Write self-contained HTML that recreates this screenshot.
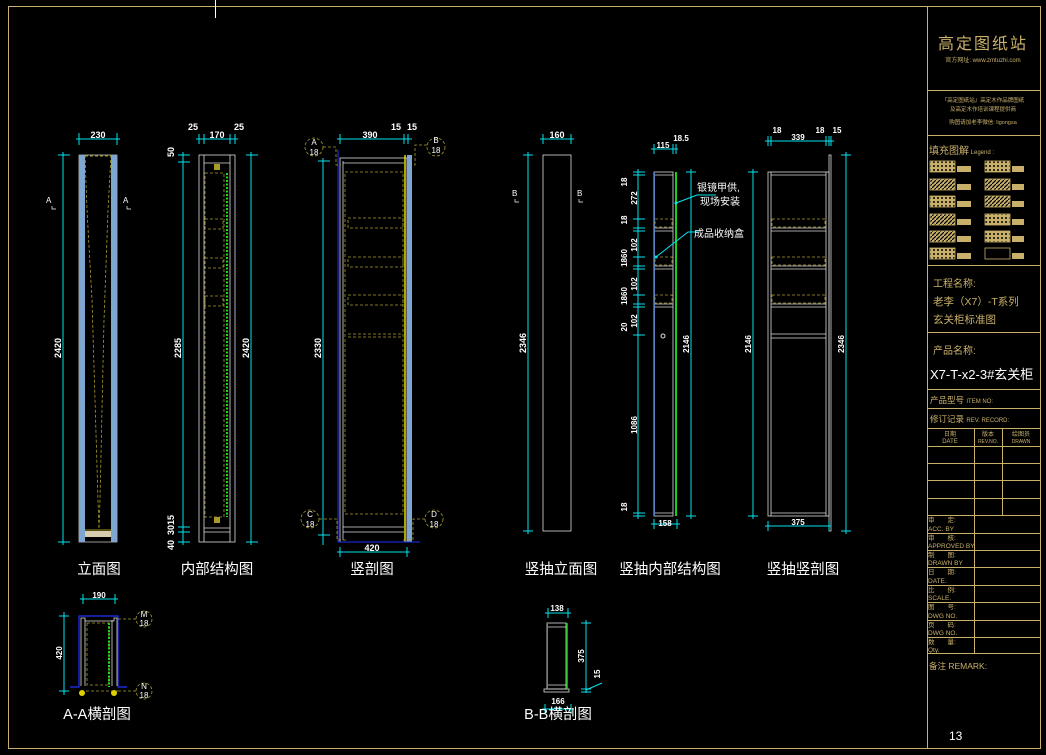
<!DOCTYPE html>
<html><head><meta charset="utf-8"><style>
html,body{margin:0;padding:0;background:#000;}
svg{display:block;}
text{font-family:"Liberation Sans","Noto Sans CJK SC",sans-serif;}
.cn{font-family:"Liberation Sans","Noto Sans CJK SC",sans-serif;}
</style></head><body>
<svg width="1046" height="755" viewBox="0 0 1046 755" xmlns="http://www.w3.org/2000/svg">
<defs>
<pattern id="hat" width="4" height="4" patternUnits="userSpaceOnUse"><rect width="4" height="4" fill="#c9b06a"/><path d="M0 4L4 0" stroke="#000" stroke-width="1.2"/></pattern>
<pattern id="dot" width="4" height="4" patternUnits="userSpaceOnUse"><rect width="4" height="4" fill="#c9b06a"/><circle cx="2" cy="2" r="1" fill="#000"/></pattern>
</defs>
<rect width="1046" height="755" fill="#000"/>
<!-- outer frame -->
<g stroke="#c9b06a" fill="none" stroke-width="1">
<rect x="8.5" y="6.5" width="1032" height="742"/>
<line x1="927.5" y1="6" x2="927.5" y2="748"/>
<line x1="927" y1="90.5" x2="1040" y2="90.5"/>
<line x1="927" y1="135.5" x2="1040" y2="135.5"/>
<line x1="927" y1="265.5" x2="1040" y2="265.5"/>
<line x1="927" y1="332.5" x2="1040" y2="332.5"/>
<line x1="927" y1="389.5" x2="1040" y2="389.5"/>
<line x1="927" y1="408.5" x2="1040" y2="408.5"/>
<line x1="927" y1="428.5" x2="1040" y2="428.5"/>
<line x1="927" y1="446.5" x2="1040" y2="446.5"/>
<line x1="927" y1="463.5" x2="1040" y2="463.5"/>
<line x1="927" y1="480.5" x2="1040" y2="480.5"/>
<line x1="927" y1="498.5" x2="1040" y2="498.5"/>
<line x1="927" y1="515.5" x2="1040" y2="515.5"/>
<line x1="927" y1="533.5" x2="1040" y2="533.5"/>
<line x1="927" y1="550.5" x2="1040" y2="550.5"/>
<line x1="927" y1="567.5" x2="1040" y2="567.5"/>
<line x1="927" y1="585.5" x2="1040" y2="585.5"/>
<line x1="927" y1="602.5" x2="1040" y2="602.5"/>
<line x1="927" y1="620.5" x2="1040" y2="620.5"/>
<line x1="927" y1="637.5" x2="1040" y2="637.5"/>
<line x1="927" y1="653.5" x2="1040" y2="653.5"/>
<line x1="974.5" y1="428" x2="974.5" y2="515"/>
<line x1="1002.5" y1="428" x2="1002.5" y2="515"/>
<line x1="974.5" y1="515" x2="974.5" y2="653"/>
</g>
<line x1="215.5" y1="0" x2="215.5" y2="18" stroke="#fff"/>
<!-- title block text -->
<g fill="#c9b06a">
<text x="983" y="49" font-size="16" text-anchor="middle" class="cn" letter-spacing="2">高定图纸站</text>
<text x="983" y="62" font-size="6" text-anchor="middle">官方网址: www.zmtuzhi.com</text>
<text x="983" y="102" font-size="5.5" text-anchor="middle">『高定图纸站』高定木作品牌图纸</text>
<text x="983" y="111" font-size="5.5" text-anchor="middle">及高定木作培训课程提供商</text>
<text x="983" y="124" font-size="5.5" text-anchor="middle">购图请加老李微信: ligongsa</text>
<text x="929" y="154" font-size="10">填充图解<tspan font-size="6"> Legend :</tspan></text>
<text x="933" y="287" font-size="10">工程名称:</text>
<text x="933" y="305" font-size="10.5">老李（X7）-T系列</text>
<text x="933" y="323" font-size="10.5">玄关柜标准图</text>
<text x="933" y="354" font-size="10">产品名称:</text>
<text x="930" y="403" font-size="8.5">产品型号 <tspan font-size="6">ITEM NO:</tspan></text>
<text x="930" y="422" font-size="8.5">修订记录 <tspan font-size="6">REV. RECORD:</tspan></text>
<text x="950" y="436" font-size="6" text-anchor="middle">日期</text>
<text x="950" y="443" font-size="6" text-anchor="middle">DATE</text>
<text x="988" y="436" font-size="6" text-anchor="middle">版本</text>
<text x="988" y="443" font-size="5" text-anchor="middle">REV.NO.</text>
<text x="1021" y="436" font-size="6" text-anchor="middle">绘图员</text>
<text x="1021" y="443" font-size="5" text-anchor="middle">DRAWN</text>
<g font-size="6.5">
<text x="928" y="522">审　　定:</text><text x="928" y="531">ACC. BY</text>
<text x="928" y="540">审　　核:</text><text x="928" y="548">APPROVED BY</text>
<text x="928" y="557">制　　图:</text><text x="928" y="565">DRAWN BY</text>
<text x="928" y="574">日　　期:</text><text x="928" y="583">DATE.</text>
<text x="928" y="592">比　　例:</text><text x="928" y="600">SCALE.</text>
<text x="928" y="609">图　　号:</text><text x="928" y="618">DWG NO.</text>
<text x="928" y="627">页　　码:</text><text x="928" y="635">DWG NO.</text>
<text x="928" y="644">数　　量:</text><text x="928" y="652">Qty.</text>
</g>
<text x="929" y="669" font-size="8.5">备注 REMARK:</text>
</g>
<text x="930" y="379" font-size="13" fill="#fff">X7-T-x2-3#玄关柜</text>
<text x="949" y="740" font-size="12" fill="#fff">13</text>
<!-- legend swatches -->
<g stroke="#c9b06a" stroke-width="0.8">
<rect x="930" y="161" width="25" height="11" fill="url(#dot)"/>
<rect x="930" y="179" width="25" height="11" fill="url(#hat)"/>
<rect x="930" y="196" width="25" height="11" fill="url(#dot)"/>
<rect x="930" y="214" width="25" height="11" fill="url(#hat)"/>
<rect x="930" y="231" width="25" height="11" fill="url(#hat)"/>
<rect x="930" y="248" width="25" height="11" fill="url(#dot)"/>
<rect x="985" y="161" width="25" height="11" fill="url(#dot)"/>
<rect x="985" y="179" width="25" height="11" fill="url(#hat)"/>
<rect x="985" y="196" width="25" height="11" fill="url(#hat)"/>
<rect x="985" y="214" width="25" height="11" fill="url(#dot)"/>
<rect x="985" y="231" width="25" height="11" fill="url(#dot)"/>
<rect x="985" y="248" width="25" height="11" fill="none"/>
</g>
<g fill="#c9b06a">
<rect x="957" y="166" width="14" height="6"/><rect x="957" y="184" width="14" height="6"/><rect x="957" y="201" width="14" height="6"/><rect x="957" y="219" width="14" height="6"/><rect x="957" y="236" width="14" height="6"/><rect x="957" y="253" width="14" height="6"/>
<rect x="1012" y="166" width="12" height="6"/><rect x="1012" y="184" width="12" height="6"/><rect x="1012" y="201" width="12" height="6"/><rect x="1012" y="219" width="12" height="6"/><rect x="1012" y="236" width="12" height="6"/><rect x="1012" y="253" width="12" height="6"/>
</g>

<!-- ============ 立面图 ============ -->
<g>
<rect x="79" y="155" width="38" height="387" fill="none" stroke="#fff" stroke-width="0.6"/>
<rect x="79" y="155" width="6" height="387" fill="#7ea6d0"/>
<rect x="111" y="155" width="6" height="387" fill="#7ea6d0"/>
<rect x="85" y="531" width="26" height="6" fill="#d9cdb0"/>
<path d="M85 155L87 210L92 300L98 500L99 530M111 155L108 210L104 320L100 500L99 530" stroke="#a89a2a" fill="none" stroke-dasharray="3,2" stroke-width="0.8"/>
<line x1="85" y1="156" x2="111" y2="156" stroke="#a89a2a" stroke-dasharray="3,2"/>
<line x1="85" y1="530" x2="111" y2="530" stroke="#a89a2a"/>
</g>
<g stroke="#00e5ee" stroke-width="1" fill="none">
<line x1="63" y1="152" x2="63" y2="545"/><line x1="58" y1="155" x2="70" y2="155"/><line x1="58" y1="542" x2="70" y2="542"/>
<line x1="76" y1="139" x2="120" y2="139"/><line x1="79" y1="133" x2="79" y2="145"/><line x1="117" y1="133" x2="117" y2="145"/>
</g>
<text x="98" y="138" fill="#fff" font-size="9" font-weight="bold" text-anchor="middle">230</text>
<text transform="translate(61,348) rotate(-90)" fill="#fff" font-size="9" font-weight="bold" text-anchor="middle">2420</text>
<text x="46" y="203" fill="#fff" font-size="8">A</text><text x="123" y="203" fill="#fff" font-size="8">A</text>
<path d="M52 206V209H56M127 206V209H131" stroke="#fff" fill="none" stroke-width="0.7"/>

<!-- ============ 内部结构图 ============ -->
<g stroke="#ddd" fill="none" stroke-width="0.8">
<rect x="199" y="155" width="36" height="387"/>
<line x1="204" y1="155" x2="204" y2="542"/><line x1="230" y1="155" x2="230" y2="542"/>
<line x1="204" y1="163" x2="230" y2="163"/>
<line x1="204" y1="528" x2="230" y2="528"/><line x1="204" y1="532" x2="230" y2="532"/>
</g>
<g stroke="#a89a2a" fill="none" stroke-dasharray="3,2" stroke-width="0.8">
<rect x="205" y="173" width="19" height="344"/>
<rect x="205" y="219" width="18" height="10"/><rect x="205" y="258" width="18" height="10"/><rect x="205" y="296" width="18" height="10"/>
</g>
<line x1="227" y1="173" x2="227" y2="517" stroke="#19e019" stroke-width="2" stroke-dasharray="2,1.5"/>
<rect x="214" y="164" width="6" height="6" fill="#a89a2a"/><rect x="214" y="517" width="6" height="6" fill="#a89a2a"/>
<g stroke="#00e5ee" stroke-width="1" fill="none">
<line x1="183" y1="152" x2="183" y2="545"/><line x1="178" y1="155" x2="190" y2="155"/><line x1="178" y1="162" x2="190" y2="162"/><line x1="178" y1="527" x2="190" y2="527"/><line x1="178" y1="532" x2="190" y2="532"/><line x1="178" y1="542" x2="190" y2="542"/>
<line x1="251" y1="152" x2="251" y2="545"/><line x1="246" y1="155" x2="258" y2="155"/><line x1="246" y1="542" x2="258" y2="542"/>
<line x1="196" y1="139" x2="238" y2="139"/><line x1="199" y1="134" x2="199" y2="144"/><line x1="204" y1="134" x2="204" y2="144"/><line x1="230" y1="134" x2="230" y2="144"/><line x1="235" y1="134" x2="235" y2="144"/>
</g>
<g fill="#fff" font-size="9" font-weight="bold" text-anchor="middle">
<text x="217" y="138">170</text><text x="193" y="130">25</text><text x="239" y="130">25</text>
<text transform="translate(181,348) rotate(-90)">2285</text>
<text transform="translate(249,348) rotate(-90)">2420</text>
<text transform="translate(174,152) rotate(-90)">50</text>
<text transform="translate(174,520) rotate(-90)">15</text>
<text transform="translate(174,530) rotate(-90)">30</text>
<text transform="translate(174,545) rotate(-90)">40</text>
</g>

<!-- ============ 竖剖图 ============ -->
<g stroke="#ddd" fill="none" stroke-width="0.8">
<rect x="340" y="158" width="67" height="384"/>
<line x1="343" y1="161" x2="343" y2="540"/>
<line x1="343" y1="163" x2="404" y2="163"/>
<line x1="343" y1="527" x2="404" y2="527"/><line x1="343" y1="532" x2="404" y2="532"/>
</g>
<rect x="407" y="155" width="5" height="387" fill="#7ea6d0"/>
<line x1="405" y1="155" x2="405" y2="542" stroke="#e0e000" stroke-width="1.5"/>
<line x1="338" y1="150" x2="338" y2="542" stroke="#2030ff"/>
<line x1="338" y1="542" x2="420" y2="542" stroke="#2030ff"/>
<g stroke="#a89a2a" fill="none" stroke-dasharray="3,2" stroke-width="0.8">
<rect x="345" y="172" width="58" height="342"/>
<rect x="348" y="218" width="55" height="10"/><rect x="348" y="257" width="55" height="10"/><rect x="348" y="295" width="55" height="10"/>
<line x1="348" y1="334" x2="403" y2="334"/><line x1="348" y1="337" x2="403" y2="337"/>
<circle cx="314" cy="147" r="9"/><circle cx="436" cy="147" r="9"/><circle cx="310" cy="519" r="9"/><circle cx="434" cy="519" r="9"/>
<path d="M323 147H336V165H341M427 145H415V165H411M319 519H337V540H346M425 519H413V540H402"/>
</g>
<g fill="#fff" font-size="8" text-anchor="middle">
<text x="314" y="145">A</text><text x="314" y="155">18</text>
<text x="436" y="143">B</text><text x="436" y="153">18</text>
<text x="310" y="517">C</text><text x="310" y="527">18</text>
<text x="434" y="517">D</text><text x="434" y="527">18</text>
</g>
<g stroke="#00e5ee" stroke-width="1" fill="none">
<line x1="323" y1="158" x2="323" y2="545"/><line x1="318" y1="161" x2="330" y2="161"/><line x1="318" y1="535" x2="330" y2="535"/>
<line x1="337" y1="139" x2="412" y2="139"/><line x1="340" y1="134" x2="340" y2="144"/><line x1="404" y1="134" x2="404" y2="144"/><line x1="408" y1="134" x2="408" y2="144"/>
<line x1="337" y1="552" x2="410" y2="552"/><line x1="340" y1="547" x2="340" y2="557"/><line x1="407" y1="547" x2="407" y2="557"/>
</g>
<g fill="#fff" font-size="9" font-weight="bold" text-anchor="middle">
<text x="370" y="138">390</text><text x="396" y="130">15</text><text x="412" y="130">15</text>
<text x="372" y="551">420</text>
<text transform="translate(321,348) rotate(-90)">2330</text>
</g>

<!-- ============ 竖抽立面图 ============ -->
<rect x="543" y="155" width="28" height="376" fill="none" stroke="#ddd" stroke-width="0.8"/>
<g stroke="#00e5ee" stroke-width="1" fill="none">
<line x1="528" y1="152" x2="528" y2="534"/><line x1="523" y1="155" x2="533" y2="155"/><line x1="523" y1="531" x2="533" y2="531"/>
<line x1="540" y1="139" x2="574" y2="139"/><line x1="543" y1="134" x2="543" y2="144"/><line x1="571" y1="134" x2="571" y2="144"/>
</g>
<g fill="#fff" font-size="9" font-weight="bold" text-anchor="middle">
<text x="557" y="138">160</text>
<text transform="translate(526,343) rotate(-90)">2346</text>
</g>
<text x="512" y="196" fill="#fff" font-size="8">B</text><text x="577" y="196" fill="#fff" font-size="8">B</text>
<path d="M515 199V202H519M579 199V202H583" stroke="#fff" fill="none" stroke-width="0.7"/>

<!-- ============ 竖抽内部结构图 ============ -->
<g stroke="#ddd" fill="none" stroke-width="0.8">
<rect x="654" y="172" width="19" height="344"/>
<line x1="654" y1="175" x2="673" y2="175"/><line x1="654" y1="513" x2="673" y2="513"/>
<line x1="654" y1="228" x2="673" y2="228"/><line x1="654" y1="231" x2="673" y2="231"/>
<line x1="654" y1="266" x2="673" y2="266"/><line x1="654" y1="269" x2="673" y2="269"/>
<line x1="654" y1="304" x2="673" y2="304"/><line x1="654" y1="307" x2="673" y2="307"/>
</g>
<line x1="654.5" y1="172" x2="654.5" y2="516" stroke="#5a7fc0"/>
<line x1="676" y1="172" x2="676" y2="516" stroke="#19d019" stroke-width="2"/>
<g stroke="#a89a2a" fill="none" stroke-dasharray="3,2" stroke-width="0.8">
<rect x="655" y="219" width="17" height="8"/><rect x="655" y="257" width="17" height="8"/><rect x="655" y="295" width="17" height="8"/>
</g>
<circle cx="663" cy="336" r="2" fill="none" stroke="#ddd"/>
<g stroke="#00e5ee" stroke-width="1" fill="none">
<line x1="638" y1="169" x2="638" y2="519"/>
<line x1="633" y1="172" x2="645" y2="172"/><line x1="633" y1="175" x2="645" y2="175"/><line x1="633" y1="219" x2="645" y2="219"/><line x1="633" y1="228" x2="645" y2="228"/><line x1="633" y1="231" x2="645" y2="231"/><line x1="633" y1="257" x2="645" y2="257"/><line x1="633" y1="266" x2="645" y2="266"/><line x1="633" y1="269" x2="645" y2="269"/><line x1="633" y1="295" x2="645" y2="295"/><line x1="633" y1="304" x2="645" y2="304"/><line x1="633" y1="307" x2="645" y2="307"/><line x1="633" y1="335" x2="645" y2="335"/><line x1="633" y1="513" x2="645" y2="513"/><line x1="633" y1="516" x2="645" y2="516"/>
<line x1="691" y1="169" x2="691" y2="519"/><line x1="686" y1="172" x2="696" y2="172"/><line x1="686" y1="516" x2="696" y2="516"/>
<line x1="651" y1="524" x2="680" y2="524"/><line x1="654" y1="519" x2="654" y2="529"/><line x1="677" y1="519" x2="677" y2="529"/>
<line x1="651" y1="149" x2="678" y2="149"/><line x1="654" y1="144" x2="654" y2="154"/><line x1="673" y1="144" x2="673" y2="154"/><line x1="676" y1="144" x2="676" y2="154"/>
<path d="M676 203L697 195H716M656 257L688 232H699"/>
</g>
<circle cx="676" cy="203" r="1.5" fill="#00e5ee"/><circle cx="656" cy="257" r="1.5" fill="#00e5ee"/>
<g fill="#fff" font-size="10" class="cn">
<text x="697" y="191">银镜甲供,</text><text x="700" y="205">现场安装</text>
<text x="694" y="237">成品收纳盒</text>
</g>
<g fill="#fff" font-size="8" font-weight="bold" text-anchor="middle">
<text x="663" y="148">115</text><text x="681" y="141">18.5</text>
<text x="665" y="526">158</text>
<text transform="translate(689,344) rotate(-90)">2146</text>
<text transform="translate(627,182) rotate(-90)">18</text>
<text transform="translate(637,198) rotate(-90)">272</text>
<text transform="translate(627,220) rotate(-90)">18</text>
<text transform="translate(637,245) rotate(-90)">102</text>
<text transform="translate(627,258) rotate(-90)">1860</text>
<text transform="translate(637,284) rotate(-90)">102</text>
<text transform="translate(627,296) rotate(-90)">1860</text>
<text transform="translate(637,321) rotate(-90)">102</text>
<text transform="translate(627,327) rotate(-90)">20</text>
<text transform="translate(637,425) rotate(-90)">1086</text>
<text transform="translate(627,507) rotate(-90)">18</text>
</g>

<!-- ============ 竖抽竖剖图 ============ -->
<g stroke="#ddd" fill="none" stroke-width="0.8">
<rect x="768" y="172" width="61" height="344"/>
<line x1="771" y1="172" x2="771" y2="516"/>
<line x1="771" y1="175" x2="826" y2="175"/><line x1="826" y1="172" x2="826" y2="516"/>
<line x1="771" y1="228" x2="826" y2="228"/><line x1="771" y1="231" x2="826" y2="231"/>
<line x1="771" y1="266" x2="826" y2="266"/><line x1="771" y1="269" x2="826" y2="269"/>
<line x1="771" y1="304" x2="826" y2="304"/><line x1="771" y1="307" x2="826" y2="307"/>
<line x1="771" y1="334" x2="826" y2="334"/><line x1="771" y1="338" x2="826" y2="338"/>
<line x1="771" y1="513" x2="826" y2="513"/>
<rect x="829" y="155" width="2" height="376"/>
</g>
<g stroke="#a89a2a" fill="none" stroke-dasharray="3,2" stroke-width="0.8">
<rect x="772" y="219" width="53" height="8"/><rect x="772" y="257" width="53" height="8"/><rect x="772" y="295" width="53" height="8"/>
</g>
<g stroke="#00e5ee" stroke-width="1" fill="none">
<line x1="753" y1="169" x2="753" y2="519"/><line x1="748" y1="172" x2="758" y2="172"/><line x1="748" y1="516" x2="758" y2="516"/>
<line x1="846" y1="152" x2="846" y2="534"/><line x1="841" y1="155" x2="851" y2="155"/><line x1="841" y1="531" x2="851" y2="531"/>
<line x1="765" y1="141" x2="834" y2="141"/><line x1="768" y1="136" x2="768" y2="146"/><line x1="771" y1="136" x2="771" y2="146"/><line x1="826" y1="136" x2="826" y2="146"/><line x1="829" y1="136" x2="829" y2="146"/><line x1="831" y1="136" x2="831" y2="146"/>
<line x1="765" y1="526" x2="831" y2="526"/><line x1="768" y1="521" x2="768" y2="531"/><line x1="829" y1="521" x2="829" y2="531"/>
</g>
<g fill="#fff" font-size="8" font-weight="bold" text-anchor="middle">
<text x="777" y="133">18</text><text x="798" y="140">339</text><text x="820" y="133">18</text><text x="837" y="133">15</text>
<text x="798" y="525">375</text>
<text transform="translate(751,344) rotate(-90)">2146</text>
<text transform="translate(844,344) rotate(-90)">2346</text>
</g>

<!-- ============ A-A ============ -->
<path d="M70 687H79V616H118V687H127" stroke="#2030ff" fill="none" stroke-width="1.2"/>
<g stroke="#ddd" fill="none" stroke-width="0.8">
<path d="M81 686V618H85V621H114V618H117V686"/>
<line x1="85" y1="620" x2="85" y2="686"/><line x1="112" y1="620" x2="112" y2="686"/>
</g>
<g stroke="#a89a2a" fill="none" stroke-dasharray="3,2" stroke-width="0.8">
<rect x="87" y="623" width="22" height="62"/>
<path d="M118 619H138M118 691H138M81 691H118"/>
<circle cx="144" cy="619" r="8"/><circle cx="144" cy="691" r="8"/>
</g>
<line x1="109" y1="623" x2="109" y2="687" stroke="#19e019" stroke-width="2" stroke-dasharray="2,1.5"/>
<circle cx="82" cy="693" r="3" fill="#e0d000"/><circle cx="114" cy="693" r="3" fill="#e0d000"/>
<g fill="#fff" font-size="8" text-anchor="middle">
<text x="144" y="617">M</text><text x="144" y="626">18</text><text x="144" y="689">N</text><text x="144" y="698">18</text>
</g>
<g stroke="#00e5ee" stroke-width="1" fill="none">
<line x1="64" y1="612" x2="64" y2="695"/><line x1="59" y1="616" x2="69" y2="616"/><line x1="59" y1="691" x2="69" y2="691"/>
<line x1="80" y1="599" x2="118" y2="599"/><line x1="83" y1="594" x2="83" y2="604"/><line x1="115" y1="594" x2="115" y2="604"/>
</g>
<g fill="#fff" font-size="8" font-weight="bold" text-anchor="middle">
<text x="99" y="598">190</text><text transform="translate(62,653) rotate(-90)">420</text>
</g>

<!-- ============ B-B ============ -->
<g stroke="#ddd" fill="none" stroke-width="0.8">
<rect x="547" y="623" width="19" height="66"/>
<line x1="547" y1="627" x2="566" y2="627"/><line x1="547" y1="685" x2="566" y2="685"/>
<rect x="544" y="689" width="25" height="3"/>
</g>
<line x1="547.5" y1="623" x2="547.5" y2="689" stroke="#5a7fc0"/>
<line x1="567" y1="623" x2="567" y2="689" stroke="#19d019" stroke-width="1.5"/>
<g stroke="#00e5ee" stroke-width="1" fill="none">
<line x1="545" y1="613" x2="571" y2="613"/><line x1="548" y1="608" x2="548" y2="618"/><line x1="568" y1="608" x2="568" y2="618"/>
<line x1="542" y1="709" x2="574" y2="709"/><line x1="545" y1="704" x2="545" y2="714"/><line x1="571" y1="704" x2="571" y2="714"/>
<line x1="586" y1="620" x2="586" y2="693"/><line x1="581" y1="623" x2="591" y2="623"/><line x1="581" y1="689" x2="591" y2="689"/><line x1="581" y1="692" x2="591" y2="692"/>
<path d="M586 690L602 683"/>
</g>
<g fill="#fff" font-size="8" font-weight="bold" text-anchor="middle">
<text x="557" y="611">138</text><text x="558" y="704">166</text>
<text transform="translate(584,656) rotate(-90)">375</text>
<text transform="translate(600,674) rotate(-90)">15</text>
</g>

<!-- view titles -->
<g fill="#fff" font-size="14.5" text-anchor="middle" class="cn">
<text x="99" y="574">立面图</text>
<text x="217" y="574">内部结构图</text>
<text x="372" y="574">竖剖图</text>
<text x="561" y="574">竖抽立面图</text>
<text x="670" y="574">竖抽内部结构图</text>
<text x="803" y="574">竖抽竖剖图</text>
<text x="97" y="719">A-A横剖图</text>
<text x="558" y="719">B-B横剖图</text>
</g>
</svg>
</body></html>
